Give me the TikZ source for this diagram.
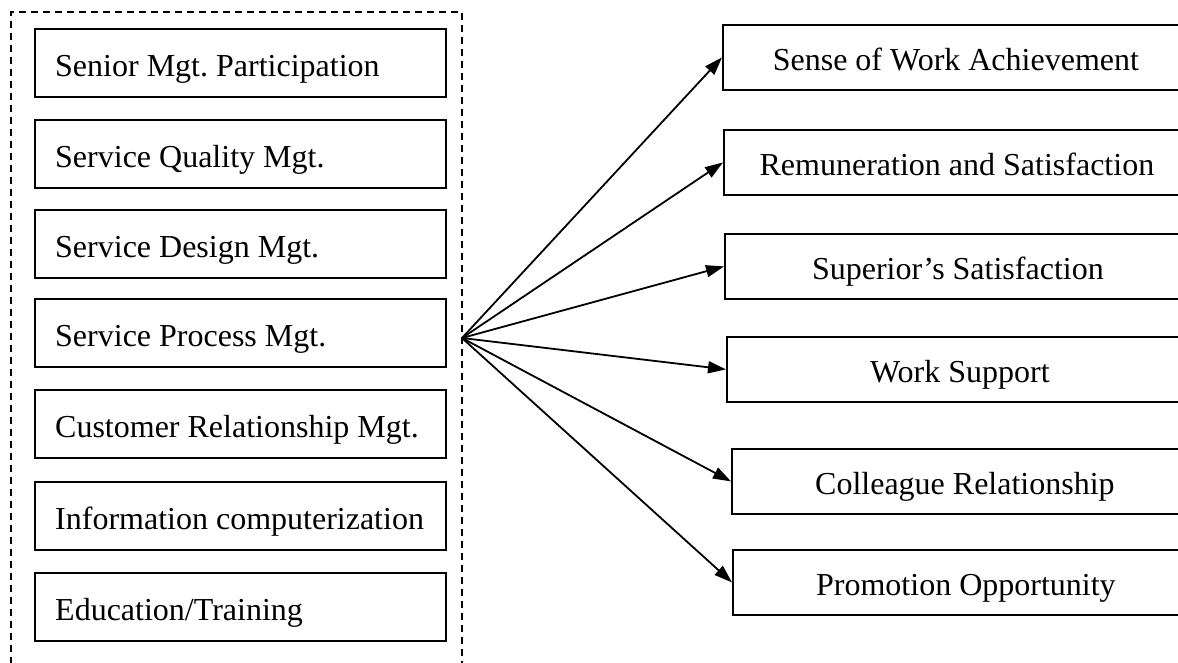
\documentclass[tikz,border=0pt]{standalone}
\usepackage{fontspec}
\setmainfont{Liberation Serif}
\usetikzlibrary{arrows.meta}

\tikzset{
  factor/.style={draw, line width=1.8pt, rectangle, anchor=north west,
    minimum height=68pt, minimum width=411pt, inner sep=0pt},
  factortext/.style={anchor=base west, inner sep=0pt,
    font=\fontsize{32}{38}\selectfont},
  outcome/.style={draw, line width=1.8pt, rectangle, anchor=north west,
    minimum height=65pt, minimum width=466pt, inner sep=0pt,
    text height=32pt, text depth=5pt, font=\fontsize{32}{38}\selectfont},
  group/.style={line width=1.5pt, dash pattern=on 7pt off 5pt},
  link/.style={line width=1.8pt, -{Triangle[length=18pt,width=12pt]}}
}

\begin{document}
\frenchspacing
\begin{tikzpicture}[x=1pt,y=-1pt]
  \useasboundingbox (0,0) rectangle (1178,662);
  \clip (0,0) rectangle (1178,662);

  % dashed frame around the management factors (runs off the bottom)
  \draw[group] (11,700) -- (11,12) -- (462,12) -- (462,700);

  % management factors: boxes, then left-aligned labels
  \foreach \n/\y in {f1/28, f2/119, f3/209, f4/298, f5/389, f6/481, f7/572}
    \node[factor] (\n) at (34,\y) {};
  \node[factortext] (t1) at ([xshift=21pt,yshift=-13.5pt]f1.west) {Senior Mgt. Participation};
  \node[factortext] (t2) at ([xshift=21pt,yshift=-13.5pt]f2.west) {Service Quality Mgt.};
  \node[factortext] (t3) at ([xshift=21pt,yshift=-13.5pt]f3.west) {Service Design Mgt.};
  \node[factortext] (t4) at ([xshift=21pt,yshift=-13.5pt]f4.west) {Service Process Mgt.};
  \node[factortext] (t5) at ([xshift=21pt,yshift=-13.5pt]f5.west) {Customer Relationship Mgt.};
  \node[factortext] (t6) at ([xshift=21pt,yshift=-13.5pt]f6.west) {Information computerization};
  \node[factortext] (t7) at ([xshift=21pt,yshift=-13.5pt]f7.west) {Education/Training};

  % satisfaction outcomes
  \node[outcome] (o1) at (722,24)  {Sense of Work Achievement};
  \node[outcome] (o2) at (723,129) {Remuneration and Satisfaction};
  \node[outcome] (o3) at (724,233) {Superior's Satisfaction};
  \node[outcome] (o4) at (726,336) {Work Support};
  \node[outcome] (o5) at (731,448) {Colleague Relationship};
  \node[outcome] (o6) at (732,549) {Promotion Opportunity};

  % fan of arrows from the frame
  \coordinate (hub) at (462,338);
  \foreach \o in {o1,o2,o3,o4,o5,o6}
    \draw[link] (hub) -- (\o.west);
\end{tikzpicture}
\end{document}
